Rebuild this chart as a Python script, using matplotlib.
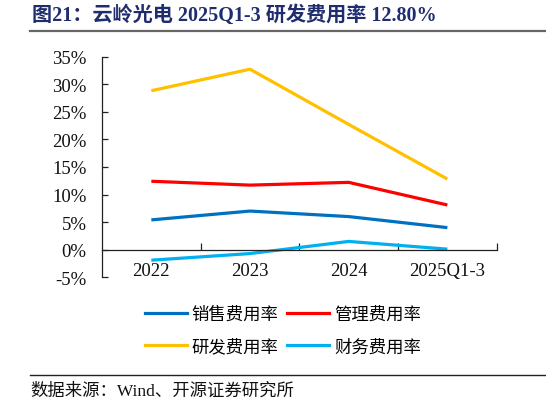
import matplotlib
matplotlib.use("Agg")
import matplotlib.pyplot as plt
from matplotlib.lines import Line2D
from matplotlib.ticker import FixedLocator, FuncFormatter

categories = ["2022", "2023", "2024", "2025Q1-3"]
sales = [5.4, 7.0, 6.0, 4.0]
admin = [12.4, 11.7, 12.2, 8.1]
rnd = [28.8, 32.7, 22.7, 12.8]
fin = [-1.9, -0.7, 1.5, 0.1]
series_names = ["销售费用率", "管理费用率", "研发费用率", "财务费用率"]
colors = ["#0070C0", "#FF0000", "#FFC000", "#00B0F0"]
yticks = [-5, 0, 5, 10, 15, 20, 25, 30, 35]

serif = ["Liberation Serif", "Noto Sans CJK SC"]
cjk = ["Noto Sans CJK SC", "Liberation Serif"]

W, H = 546, 406
fig = plt.figure(figsize=(W / 100, H / 100), dpi=100)
ax = fig.add_axes([102 / W, 1 - 278.3 / H, (496.7 - 102) / W, (278.3 - 57.5) / H])

x = list(range(len(categories)))
for vals, c in zip([sales, admin, rnd, fin], colors):
    ax.plot(x, vals, color=c, lw=2.3, solid_capstyle="butt")

ax.set_xlim(-0.5, len(categories) - 0.5)
ax.set_ylim(-5, 35)
ax.spines["top"].set_visible(False)
ax.spines["right"].set_visible(False)
ax.spines["bottom"].set_position(("data", 0))
for s in ["left", "bottom"]:
    ax.spines[s].set_linewidth(0.9)
    ax.spines[s].set_color("#222222")

ax.set_yticks(yticks)
ax.yaxis.set_major_formatter(FuncFormatter(lambda v, p: f"{int(v)}%"))
ax.tick_params(axis="y", direction="in", length=4, width=0.9, pad=11, labelsize=13.5, colors="#222222")
ax.set_xticks(x)
ax.set_xticklabels(categories)
ax.tick_params(axis="x", which="major", length=0, pad=9, labelsize=13.5, colors="#222222")
ax.xaxis.set_minor_locator(FixedLocator([i + 0.5 for i in x]))
ax.tick_params(axis="x", which="minor", direction="in", length=5, width=0.9, color="#222222")
for lab in ax.get_xticklabels() + ax.get_yticklabels():
    lab.set_family(serif)
    lab.set_color("#111111")

handles = [Line2D([0], [0], color=c, lw=2.3) for c in colors]
order = [0, 2, 1, 3]
fig.legend([handles[i] for i in order], [series_names[i] for i in order],
           loc="center", bbox_to_anchor=(283 / W, 1 - 331 / H),
           ncol=2, frameon=False, handlelength=2.4, handletextpad=0.3,
           columnspacing=0.5, labelspacing=0.85,
           prop={"family": cjk, "size": 12.5})

# title
fig.text(32 / W, 1 - 16 / H, "图21：云岭光电 2025Q1-3 研发费用率 12.80%", family=serif,
         fontsize=14.5, fontweight="bold", color="#1F2D6E", va="center", ha="left")
fig.add_artist(Line2D([30 / W, 1.0], [1 - 32 / H, 1 - 32 / H], color="#666666", lw=1.6))

# source
fig.add_artist(Line2D([30 / W, 1.0], [1 - 376 / H, 1 - 376 / H], color="#222222", lw=1.0))
fig.text(30 / W, 1 - 392 / H, "数据来源：Wind、开源证券研究所", family=serif,
         fontsize=12.5, color="#111111", va="center", ha="left")

fig.savefig("out.png", dpi=100)
